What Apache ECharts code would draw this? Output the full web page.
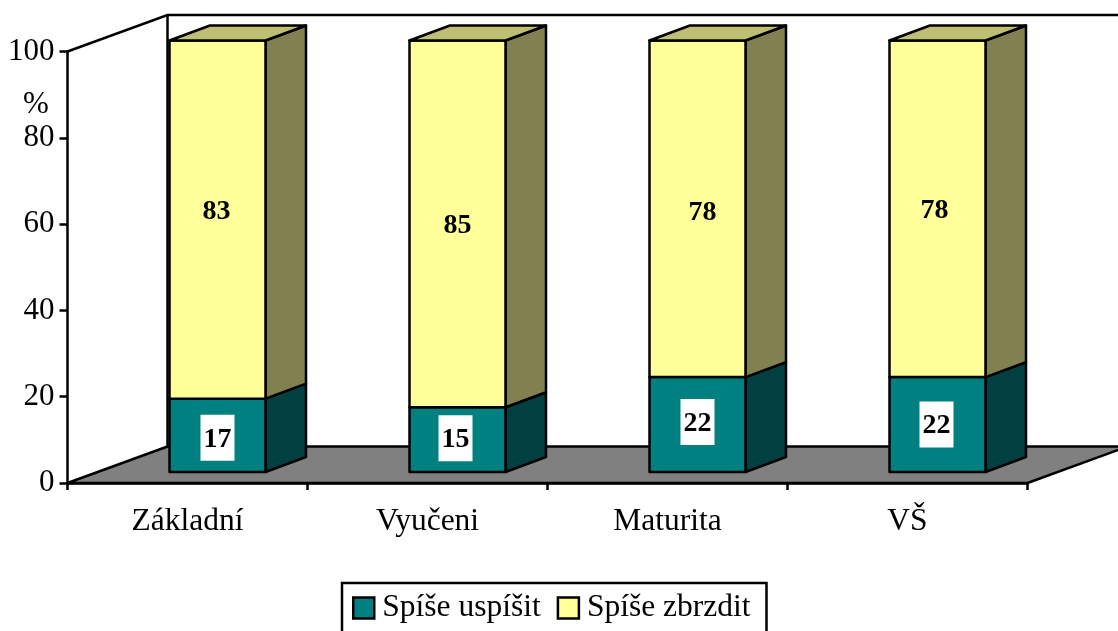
<!DOCTYPE html>
<html>
<head>
<meta charset="utf-8">
<style>
html,body{margin:0;padding:0;background:#fff;overflow:hidden}
#main{width:1118px;height:631px}
</style>
<script src="https://cdn.jsdelivr.net/npm/echarts@6/dist/echarts.min.js"></script>
</head>
<body>
<div id="main"></div>
<script>
var categories = ['Základní', 'Vyučeni', 'Maturita', 'VŠ'];
var uspisit = [17, 15, 22, 22];
var zbrzdit = [83, 85, 78, 78];
var yTicks = [0, 20, 40, 60, 80, 100];

// hand placed labels in the original, [dx, dy] from the middle of the face
var uspisitShift = [[0, 2.5], [-2, -1.5], [0, -2.5], [-1, 0]];
var zbrzditShift = [[-1, -9.5], [0, 0], [5, 2.5], [-3, 0]];

var fontName = '"Liberation Serif", "Times New Roman", serif';
var floorDepth = [100, -36.5];
var barInset = [30, -11];
var barDepth = [40.5, -15];
var barHalf = 48;
var edge = 2.5;

function poly(points, fill) {
	return {
		type: 'polygon',
		shape: { points: points },
		style: { fill: fill, stroke: '#000', lineWidth: edge, lineJoin: 'round' }
	};
}

function stackedData(values, below) {
	return values.map(function (v, i) {
		var start = below ? below[i] : 0;
		return [i, start, start + v, v];
	});
}

function makeRenderBar(colors, shifts, boxed, withTop) {
	return function (params, api) {
		var i = api.value(0);
		var a = api.coord([i, api.value(1)]);
		var b = api.coord([i, api.value(2)]);
		var cx = a[0] + barInset[0];
		var x0 = cx - barHalf, x1 = cx + barHalf;
		var y0 = a[1] + barInset[1], y1 = b[1] + barInset[1];
		var dx = barDepth[0], dy = barDepth[1];
		var kids = [
			poly([[x1, y0], [x1 + dx, y0 + dy], [x1 + dx, y1 + dy], [x1, y1]], colors.side),
			poly([[x0, y0], [x1, y0], [x1, y1], [x0, y1]], colors.front)
		];
		if (withTop) {
			kids.push(poly([[x0, y1], [x1, y1], [x1 + dx, y1 + dy], [x0 + dx, y1 + dy]], colors.top));
		}
		var lx = cx + shifts[i][0];
		var ly = (y0 + y1) / 2 + shifts[i][1];
		if (boxed) {
			kids.push({
				type: 'rect',
				shape: { x: lx - 17, y: ly - 23, width: 34, height: 46 },
				style: { fill: '#fff' }
			});
		}
		kids.push({
			type: 'text',
			style: {
				x: lx, y: ly + 1.5, text: String(api.value(3)),
				align: 'center', verticalAlign: 'middle',
				font: 'bold 28px ' + fontName, fill: '#000'
			}
		});
		return { type: 'group', children: kids };
	};
}

function renderFloor(params, api) {
	var c = params.coordSys;
	var left = c.x, right = c.x + c.width, bottom = c.y + c.height, top = c.y;
	var bx = floorDepth[0], by = floorDepth[1];
	return {
		type: 'group',
		children: [
			poly([[left, bottom], [left + bx, bottom + by], [right + bx, bottom + by], [right, bottom]], '#808080'),
			{
				type: 'polyline',
				shape: { points: [[left, top], [left + bx, top + by], [right + bx, top + by]] },
				style: { fill: null, stroke: '#000', lineWidth: edge }
			},
			{
				type: 'line',
				shape: { x1: left + bx, y1: top + by, x2: left + bx, y2: bottom + by },
				style: { stroke: '#000', lineWidth: edge }
			}
		]
	};
}

var option = {
	animation: false,
	backgroundColor: '#fff',
	textStyle: { fontFamily: fontName },
	grid: { left: 67.5, right: 90.5, top: 51.5, bottom: 148 },
	legend: {
		left: 342,
		top: 583,
		padding: [9, 16, 16, 10],
		borderColor: '#000',
		borderWidth: 2.5,
		borderRadius: 0,
		itemWidth: 21,
		itemHeight: 21,
		itemGap: 16,
		selectedMode: false,
		textStyle: { fontFamily: fontName, fontSize: 31.5, color: '#000', padding: [3, 0, 0, 3] },
		data: [
			{ name: 'Spíše uspíšit', icon: 'rect', itemStyle: { color: '#008080', borderColor: '#000', borderWidth: 2.5 } },
			{ name: 'Spíše zbrzdit', icon: 'rect', itemStyle: { color: '#FFFF99', borderColor: '#000', borderWidth: 2.5 } }
		]
	},
	xAxis: {
		type: 'category',
		data: categories,
		axisLine: { lineStyle: { color: '#000', width: 2.5 } },
		axisTick: { show: true, length: 7, lineStyle: { color: '#000', width: 2.5 } },
		axisLabel: { color: '#000', fontFamily: fontName, fontSize: 31.5, margin: 23 },
		splitLine: { show: false }
	},
	yAxis: {
		type: 'value',
		min: 0,
		max: yTicks[yTicks.length - 1],
		interval: 20,
		axisLine: { show: true, lineStyle: { color: '#000', width: 2.5 } },
		axisTick: { show: true, length: 8, lineStyle: { color: '#000', width: 2.5 } },
		axisLabel: { color: '#000', fontFamily: fontName, fontSize: 31, margin: 13 },
		splitLine: { show: false }
	},
	graphic: [{
		type: 'text',
		left: 23,
		top: 89,
		style: { text: '%', font: '31px ' + fontName, fill: '#000' }
	}],
	series: [
		{
			name: 'floor',
			type: 'custom',
			z: -1,
			silent: true,
			renderItem: renderFloor,
			data: [[0, 0]],
			encode: { x: 0, y: 1 }
		},
		{
			name: 'Spíše uspíšit',
			type: 'custom',
			z: 2,
			itemStyle: { color: '#008080' },
			renderItem: makeRenderBar({ front: '#008080', side: '#004040' }, uspisitShift, true, false),
			data: stackedData(uspisit),
			encode: { x: 0, y: [1, 2] }
		},
		{
			name: 'Spíše zbrzdit',
			type: 'custom',
			z: 3,
			itemStyle: { color: '#FFFF99' },
			renderItem: makeRenderBar({ front: '#FFFF99', side: '#808050', top: '#BFBF73' }, zbrzditShift, false, true),
			data: stackedData(zbrzdit, uspisit),
			encode: { x: 0, y: [1, 2] }
		}
	]
};

var chart = echarts.init(document.getElementById('main'));
chart.setOption(option);
</script>
</body>
</html>
